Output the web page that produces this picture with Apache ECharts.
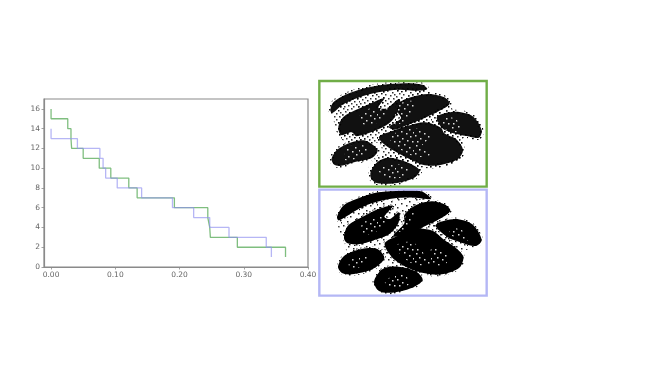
<!DOCTYPE html>
<html><head><meta charset="utf-8">
<style>html,body{margin:0;padding:0;background:#fff}#c{width:657px;height:371px}</style>
<script src="https://cdn.jsdelivr.net/npm/echarts@6/dist/echarts.min.js"></script>
</head><body><div id="c"></div>
<script>
const xTicks=[0,0.1,0.2,0.3,0.4];
const yTicks=[0,2,4,6,8,10,12,14,16];
const greenX=[0,0,.026,.031,.032,.05,.075,.093,.121,.134,.192,.244,.247,.248,.29,.365];
const greenY=[16,15,14,13,12,11,10,9,8,7,6,5,4,3,2,1];
const blueX=[0,0,.041,.076,.081,.085,.103,.141,.189,.222,.247,.277,.335,.343];
const blueY=[14,13,12,11,10,9,8,7,6,5,4,3,2,1];

const topFrame=[[13,18],[515,18],[515,335],[13,335]];
const bottomFrame=[[13,14],[515,14],[515,332],[13,332]];
const topBlobs=[
[[46,104],[55,82],[90,60],[140,42],[200,30],[270,25],[322,29],[337,42],[310,47],[250,44],[190,52],[130,68],[85,88],[62,107],[50,114]],
[[70,155],[85,126],[120,106],[165,86],[208,70],[190,98],[215,100],[252,72],[256,95],[230,138],[190,163],[125,184],[110,172],[78,180]],
[[250,85],[290,66],[340,57],[388,67],[404,86],[372,108],[320,133],[270,153],[238,164],[222,156],[258,130],[248,110]],
[[366,125],[420,110],[472,123],[500,165],[492,188],[455,183],[410,173],[382,160]],
[[192,185],[225,170],[280,152],[330,142],[378,158],[388,175],[424,193],[444,225],[428,253],[380,269],[330,271],[288,254],[238,228],[202,203]],
[[50,250],[68,223],[110,202],[152,197],[188,225],[172,248],[120,261],[75,273],[56,268]],
[[167,290],[188,260],[220,248],[272,260],[314,285],[298,308],[240,325],[188,325],[169,312]]
];
const bottomBlobs=[
[[66,95],[85,62],[130,40],[190,22],[260,17],[322,20],[348,42],[300,38],[240,40],[170,55],[120,78],[80,103],[70,106]],
[[87,160],[98,123],[140,97],[190,72],[234,62],[208,95],[225,102],[252,82],[250,115],[222,148],[170,168],[130,178],[98,175]],
[[268,90],[300,62],[350,49],[392,60],[406,78],[372,103],[320,128],[265,153],[235,153],[268,115]],
[[362,120],[420,102],[472,118],[500,165],[482,183],[440,173],[398,157]],
[[209,175],[250,152],[300,132],[352,137],[392,168],[422,188],[445,215],[433,248],[380,268],[330,265],[278,248],[232,218]],
[[69,245],[88,212],[140,192],[187,192],[208,220],[172,253],[110,268],[83,265]],
[[177,290],[203,252],[250,245],[302,259],[323,285],[292,308],[230,323],[192,318]]
];
const topDust=[[[58,118],[120,70],[240,45],[340,50],[410,100],[500,150],[495,192],[445,190],[448,240],[392,275],[320,278],[210,245],[192,205],[100,203],[70,182]],[[160,285],[200,240],[300,265],[320,295],[240,300]]];
const bottomDust=[[[70,110],[130,70],[240,40],[340,45],[400,95],[495,160],[470,190],[445,200],[445,235],[390,272],[320,270],[215,240],[205,195],[100,205],[90,180]]];
const topLight=[[[165,100],[225,100],[205,135],[150,150],[130,130]],[[258,85],[300,80],[285,125],[245,150],[235,140]],[[222,185],[300,160],[345,185],[320,215],[345,240],[300,245],[245,215]],[[190,275],[270,270],[280,300],[210,310]],[[375,135],[420,130],[440,170],[395,165]],[[100,215],[160,215],[140,245],[90,255]]];
const bottomLight=[[[165,100],[215,100],[200,130],[150,150],[135,130]],[[270,95],[300,85],[280,125],[250,140]],[[240,185],[290,170],[330,210],[345,240],[290,235]],[[350,190],[400,205],[390,240],[350,235]],[[210,285],[270,270],[280,300],[220,305]],[[105,225],[165,215],[150,240],[105,250]],[[400,130],[440,135],[460,165],[420,160]]];
const blackDots=[[1,0],[5,1],[9,0],[14,2],[3,3],[7,4],[12,5],[16,4],[0,6],[5,7],[10,8],[15,8],[2,9],[7,10],[12,11],[17,11],[4,12],[9,13],[0,13],[14,14],[6,15],[11,16],[2,16],[16,16]];
const whiteDots=[[2,1],[8,0],[13,3],[5,5],[17,6],[10,7],[1,9],[14,10],[6,12],[11,14],[3,15],[16,15]];

function tile(list,color){const c=document.createElement('canvas');c.width=c.height=18;const g=c.getContext('2d');g.fillStyle=color;list.forEach(p=>g.fillRect(p[0],p[1],1.5,1.5));return {image:c,repeat:'repeat'};}
const blackTile=tile(blackDots,'rgba(0,0,0,.8)');
const fuzzTile=tile(blackDots,'rgba(0,0,0,.95)');
const whiteTile=tile(whiteDots,'rgba(255,255,255,.85)');

const hiddenX=i=>({type:'value',gridIndex:i,min:0,max:540,show:false});
const hiddenY=i=>({type:'value',gridIndex:i,min:0,max:345,inverse:true,show:false});
const shapeSeries=(idx,polys,style,z)=>({type:'custom',xAxisIndex:idx,yAxisIndex:idx,z:z,silent:true,clip:false,
  data:polys.map((p,i)=>[i]),
  renderItem:(params,api)=>({type:'polygon',shape:{smooth:style.smooth||0,points:polys[api.value(0)].map(q=>api.coord(q))},style:{fill:style.fill,stroke:style.stroke,lineWidth:style.lineWidth||0,shadowBlur:style.blur||0,shadowColor:style.shadow||'transparent'}})
});
const axisCommon={axisLine:{show:true,onZero:false,lineStyle:{color:'#8a8a8a',width:1.2}},axisTick:{show:true,length:2.5,lineStyle:{color:'#8a8a8a',width:.8}},splitLine:{show:false}};
const labelStyle={color:'#666',fontSize:7.5,fontFamily:'DejaVu Sans',margin:4};

const option={animation:false,backgroundColor:'#fff',
 grid:[{left:44,top:99,width:264,height:168,show:true,borderColor:'#8a8a8a',borderWidth:1.2},{left:315,top:75,width:180,height:115},{left:315,top:185,width:180,height:115}],
 xAxis:[Object.assign({type:'value',gridIndex:0,min:-0.011,max:0.4},axisCommon,{
   axisTick:Object.assign({},axisCommon.axisTick,{customValues:xTicks}),
   axisLabel:Object.assign({},labelStyle,{customValues:xTicks,formatter:v=>v.toFixed(2)})}),hiddenX(1),hiddenX(2)],
 yAxis:[Object.assign({type:'value',gridIndex:0,min:0,max:17},axisCommon,{
   axisTick:Object.assign({},axisCommon.axisTick,{customValues:yTicks}),
   axisLabel:Object.assign({},labelStyle,{customValues:yTicks})}),hiddenY(1),hiddenY(2)],
 series:[
  {type:'line',step:'end',xAxisIndex:0,yAxisIndex:0,symbol:'none',z:3,lineStyle:{color:'#5fae5f',width:1.3,opacity:.8},data:greenX.map((x,i)=>[x,greenY[i]])},
  {type:'line',step:'end',xAxisIndex:0,yAxisIndex:0,symbol:'none',z:4,lineStyle:{color:'#8f8ff0',width:1.3,opacity:.65},data:blueX.map((x,i)=>[x,blueY[i]])},
  shapeSeries(1,topDust,{fill:blackTile,smooth:.3},4),
  shapeSeries(1,topBlobs,{fill:'#111',stroke:fuzzTile,lineWidth:4,smooth:.3},5),
  shapeSeries(1,topLight,{fill:whiteTile,smooth:.3},6),
  shapeSeries(1,[topFrame],{fill:'transparent',stroke:'#70ad47',lineWidth:2.4},8),
  shapeSeries(2,bottomDust,{fill:tile(whiteDots,'rgba(0,0,0,.85)'),smooth:.3},4),
  shapeSeries(2,bottomBlobs,{fill:'#000',stroke:fuzzTile,lineWidth:3,smooth:.3},5),
  shapeSeries(2,bottomLight,{fill:whiteTile,smooth:.3},6),
  shapeSeries(2,[bottomFrame],{fill:'transparent',stroke:'#b4b7f5',lineWidth:2.4},8)
 ]};
echarts.init(document.getElementById('c'),null,{renderer:'canvas'}).setOption(option);
</script></body></html>
